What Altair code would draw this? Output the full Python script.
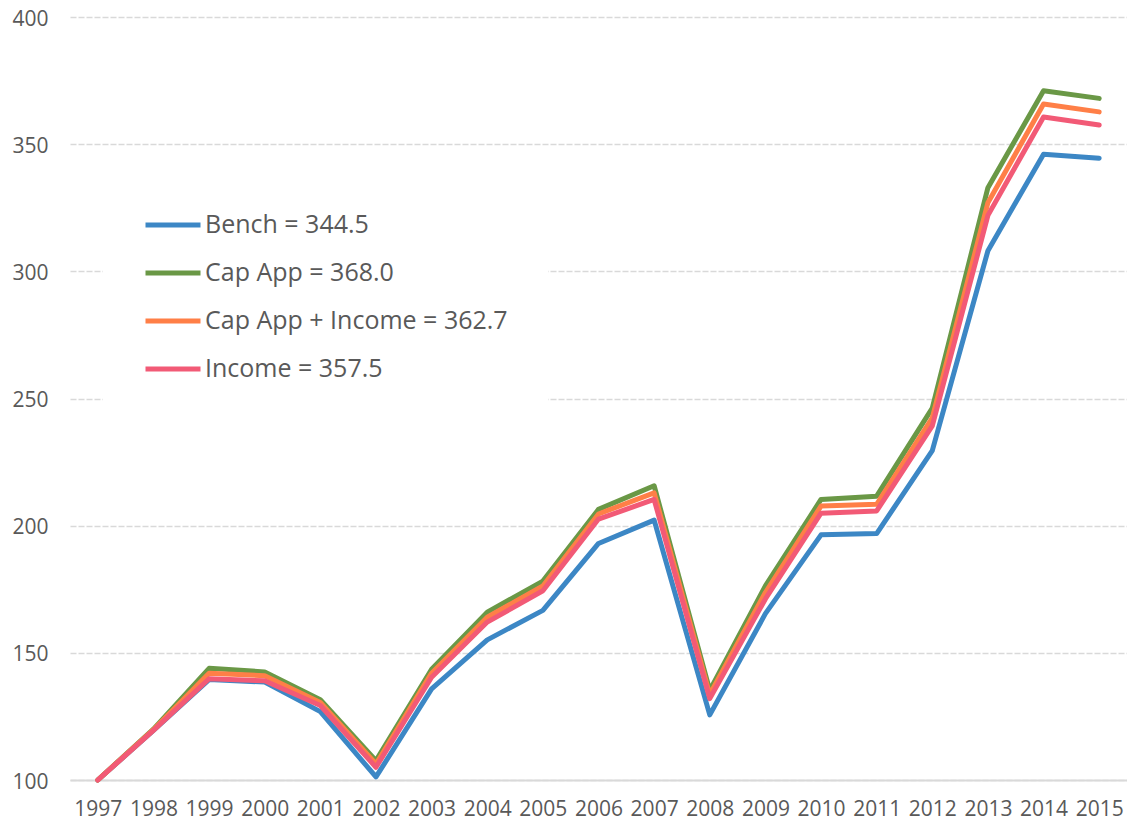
import altair as alt
import pandas as pd

years = [str(y) for y in range(1997, 2016)]
bench = [100, 119.5, 139.5, 138.5, 126.9, 101.2, 135.8, 155.1, 166.7, 193.0, 202.2, 125.6, 165.4, 196.4, 196.9, 229.5, 308.1, 346.0, 344.5]
cap_app = [100, 120.0, 143.9, 142.5, 131.6, 107.6, 143.5, 166.0, 178.2, 206.4, 215.7, 135.2, 176.3, 210.3, 211.6, 246.2, 332.9, 371.0, 368.0]
cap_app_income = [100, 119.8, 142.0, 141.0, 130.5, 106.3, 142.0, 164.0, 176.3, 204.6, 212.9, 133.6, 173.7, 207.7, 208.4, 242.4, 327.0, 365.8, 362.7]
income = [100, 119.5, 139.8, 139.0, 129.3, 105.0, 140.4, 162.1, 174.4, 202.6, 210.3, 132.0, 171.2, 204.9, 205.8, 239.2, 322.0, 360.7, 357.5]

series_names = ["Bench = 344.5", "Cap App = 368.0", "Cap App + Income = 362.7", "Income = 357.5"]
series_values = [bench, cap_app, cap_app_income, income]
colors = ["#3C87C5", "#6A9846", "#FF7F47", "#F25A76"]
y_ticks = [100, 150, 200, 250, 300, 350, 400]

FONT = "Open Sans"
GREY = "#595959"

rows = []
for name, vals in zip(series_names, series_values):
    for yr, v in zip(years, vals):
        rows.append({"year": yr, "value": v, "series": name})
df = pd.DataFrame(rows)

x_enc = alt.X("year:O", scale=alt.Scale(type="point", padding=0.5),
              axis=alt.Axis(title=None, labelAngle=0, ticks=False, grid=False,
                            domain=True, domainColor="#D9D9D9", domainWidth=2,
                            labelFont=FONT, labelFontSize=21, labelColor=GREY,
                            labelPadding=18))
y_enc = alt.Y("value:Q", scale=alt.Scale(domain=[100, 400], nice=False, zero=False),
              axis=alt.Axis(title=None, values=y_ticks, ticks=False, domain=False,
                            grid=True, gridColor="#D9D9D9", gridDash=[6, 2], gridWidth=1.5,
                            labelFont=FONT, labelFontSize=21, labelColor=GREY,
                            labelPadding=22, labelOffset=2))
color_enc = alt.Color("series:N",
                      scale=alt.Scale(domain=series_names, range=colors),
                      legend=alt.Legend(title=None, orient="none", legendX=33, legendY=138,
                                        symbolType="stroke", symbolSize=3025,
                                        symbolStrokeWidth=5, labelFont=FONT,
                                        labelFontSize=25, labelColor=GREY,
                                        labelOffset=2, rowPadding=5, labelLimit=0,
                                        fillColor="white", padding=40))

layers = []
for name in series_names:
    layers.append(
        alt.Chart(df).transform_filter(alt.datum.series == name)
        .mark_line(strokeWidth=5, strokeCap="round", strokeJoin="round")
        .encode(x=x_enc, y=y_enc, color=color_enc)
    )

chart = alt.layer(*layers).properties(
    width=1057, height=763,
    autosize=alt.AutoSizeParams(type="none"),
    padding={"left": 62, "top": 9, "right": 0, "bottom": 44},
).configure_view(stroke=None)

chart.save("out.html", embed_options={"renderer": "svg", "actions": False})
